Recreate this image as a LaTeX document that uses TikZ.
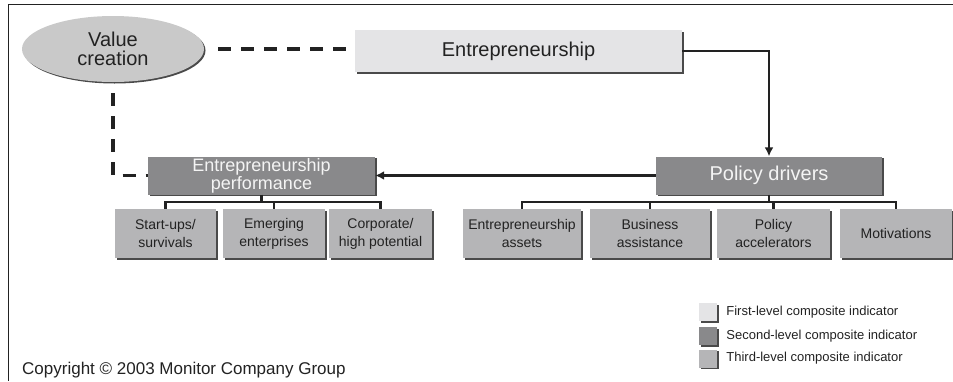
\documentclass[tikz,border=0pt]{standalone}
\usepackage{fontspec}
\setmainfont{Liberation Sans}
\usetikzlibrary{arrows.meta,positioning,shapes.geometric,shadows}

\definecolor{firstgray}{HTML}{E4E4E6}
\definecolor{secondgray}{HTML}{89898B}
\definecolor{thirdgray}{HTML}{B5B5B7}
\definecolor{ovalgray}{HTML}{C9C9C9}
\definecolor{shadegray}{HTML}{4A4A4A}
\definecolor{inkgray}{HTML}{222222}
\definecolor{boxwhite}{HTML}{F4F4F4}

\begin{document}
\begin{tikzpicture}[x=1pt,y=-1pt,
  box/.style={rectangle, inner sep=0pt, align=center, text=inkgray,
    drop shadow={shadow xshift=1.5pt, shadow yshift=-1.5pt, opacity=1, fill=shadegray}},
  firstbox/.style={box, fill=firstgray, font=\fontsize{20}{17}\selectfont},
  secondbox/.style={box, fill=secondgray, text=boxwhite, minimum height=38pt, font=\fontsize{18}{16}\selectfont},
  thirdbox/.style={box, fill=thirdgray, minimum height=49pt, font=\fontsize{14}{18}\selectfont},
  valueoval/.style={ellipse, inner sep=0pt, fill=ovalgray, align=center, text=inkgray,
    drop shadow={shadow xshift=1.5pt, shadow yshift=-1.5pt, opacity=1, fill=shadegray},
    font=\fontsize{20}{18.5}\selectfont},
  dashlink/.style={draw=inkgray, line width=3.5pt, dash pattern=on 13pt off 10pt},
  arrlink/.style={draw=inkgray, line width=2.5pt, -{Latex[length=9pt,width=9pt]}},
  treelink/.style={draw=inkgray, line width=2.5pt},
  keybox/.style={box, minimum size=18pt},
  keytext/.style={inner sep=0pt, font=\fontsize{13}{15}\selectfont, text=inkgray},
]
\useasboundingbox (0,0) rectangle (953,381);
\draw[inkgray, line width=1pt] (953,4) -- (8,4) -- (8,381);

\node[valueoval, minimum width=182pt, minimum height=66pt] (value) at (113,49) {Value\\creation};
\node[firstbox, minimum width=327pt, minimum height=42pt] (entr) at (518.5,51) {Entrepreneurship};

\node[secondbox, minimum width=227pt] (perf) at (261.5,175.5) {Entrepreneurship\\performance};
\node[secondbox, minimum width=226pt, font=\fontsize{20}{17}\selectfont] (drivers) at (769,175.5) {Policy drivers};

\node[thirdbox, minimum width=101pt] (startups) at (165.5,233.5) {Start-ups/\\survivals};
\node[thirdbox, minimum width=102pt] (emerging) at (274,233.5) {Emerging\\enterprises};
\node[thirdbox, minimum width=103pt] (corporate) at (380.5,233.5) {Corporate/\\high potential};

\node[thirdbox, minimum width=118pt] (assets) at (522,233.5) {Entrepreneurship\\assets};
\node[thirdbox, minimum width=120pt] (assist) at (650,233.5) {Business\\assistance};
\node[thirdbox, minimum width=113pt] (accel) at (773.5,233.5) {Policy\\accelerators};
\node[thirdbox, minimum width=112pt] (motiv) at (896,233.5) {Motivations};

\draw[dashlink, shorten <=14pt] (value.east) -- (value.east -| entr.west);
\draw[dashlink, shorten <=11pt] (value.south) |- (perf.west);
\draw[arrlink] (entr.east) -| (drivers.north);
\draw[arrlink] (drivers.west) -- (perf.east);

\draw[treelink] (perf.south) -- ++(0,7.5) coordinate (perfbar);
\draw[treelink] (perfbar) -| (startups.north);
\draw[treelink] (perfbar) -| (emerging.north);
\draw[treelink] (perfbar) -| (corporate.north);

\draw[treelink] (drivers.south) -- ++(0,7.5) coordinate (driverbar);
\draw[treelink] (driverbar) -| (assets.north);
\draw[treelink] (driverbar) -| (assist.north);
\draw[treelink] (driverbar) -| (accel.north);
\draw[treelink] (driverbar) -| (motiv.north);

\node[keybox, fill=firstgray] (keyone) at (708,312) {};
\node[keybox, fill=secondgray] (keytwo) at (708,336) {};
\node[keybox, fill=thirdgray] (keythree) at (708,358.5) {};
\node[keytext, right=9pt of keyone] (keyonetext) {First-level composite indicator};
\node[keytext, right=9pt of keytwo] (keytwotext) {Second-level composite indicator};
\node[keytext, right=9pt of keythree] (keythreetext) {Third-level composite indicator};

\node[anchor=west, inner sep=0pt, text=inkgray, font=\fontsize{17}{20}\selectfont] (copyright) at (22,370) {Copyright \textcopyright{} 2003 Monitor Company Group};
\end{tikzpicture}
\end{document}
